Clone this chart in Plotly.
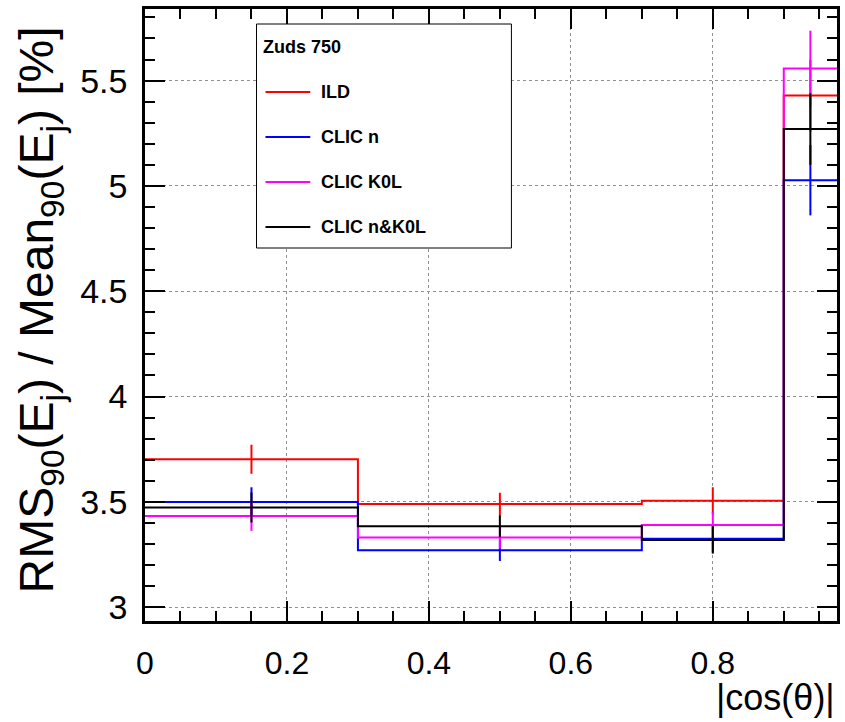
import numpy as np
import plotly.graph_objects as go

# ---- data ----
bin_edges = [0.0, 0.3, 0.7, 0.9, 0.975]
series_names = ["ILD", "CLIC n", "CLIC K0L", "CLIC n&K0L"]
ild = [3.702, 3.489, 3.505, 5.429]
clic_n = [3.499, 3.270, 3.325, 5.027]
clic_k0l = [3.432, 3.330, 3.390, 5.557]
clic_nk0l = [3.473, 3.384, 3.319, 5.270]
ild_err = [0.069, 0.054, 0.064, 0.170]
clic_n_err = [0.070, 0.051, 0.065, 0.167]
clic_k0l_err = [0.070, 0.052, 0.063, 0.180]
clic_nk0l_err = [0.071, 0.052, 0.065, 0.170]
legend_header = "Zuds 750"
x_title = "|cos(θ)|"
y_title = "RMS<sub>90</sub>(E<sub>j</sub>) / Mean<sub>90</sub>(E<sub>j</sub>) [%]"

colors = ["#ff0000", "#0000ff", "#ff00ff", "#000000"]
values = [ild, clic_n, clic_k0l, clic_nk0l]
errors = [ild_err, clic_n_err, clic_k0l_err, clic_nk0l_err]

W, H = 845, 722
ML, MR, MT, MB = 145, 5, 9, 101
PW, PH = W - ML - MR, H - MT - MB

def px(x):
    return (x - ML) / PW

def py(y):
    return (H - MB - y) / PH

FONT = "Liberation Sans, Arial, sans-serif"
edges = np.array(bin_edges)
centers = 0.5 * (edges[:-1] + edges[1:])

fig = go.Figure()
for name, col, vals, errs in zip(series_names, colors, values, errors):
    fig.add_trace(go.Scatter(
        x=list(edges), y=list(vals) + [vals[-1]],
        mode="lines", line=dict(color=col, width=2, shape="hv"),
        name=name, showlegend=False, hoverinfo="skip"))
    fig.add_trace(go.Scatter(
        x=centers, y=vals, mode="markers",
        marker=dict(size=1, color=col, opacity=0),
        error_y=dict(type="data", array=errs, visible=True,
                     color=col, thickness=2, width=0),
        showlegend=False, name=name))

# ---- manual legend (ROOT style) ----
shapes = [dict(type="rect", xref="paper", yref="paper",
               x0=px(257), x1=px(513), y0=py(248), y1=py(24),
               line=dict(color="black", width=1), fillcolor="white",
               layer="above")]
annotations = [dict(text="<b>%s</b>" % legend_header, xref="paper", yref="paper",
                    x=px(262), y=py(47), xanchor="left", yanchor="middle",
                    showarrow=False, font=dict(family=FONT, size=18, color="black"))]
row_y = [92, 137, 182, 227]
for name, col, ry in zip(series_names, colors, row_y):
    shapes.append(dict(type="line", xref="paper", yref="paper",
                       x0=px(266), x1=px(311), y0=py(ry), y1=py(ry),
                       line=dict(color=col, width=2), layer="above"))
    annotations.append(dict(text="<b>%s</b>" % name, xref="paper", yref="paper",
                            x=px(320), y=py(ry), xanchor="left", yanchor="middle",
                            showarrow=False,
                            font=dict(family=FONT, size=18, color="black")))

# axis titles
annotations.append(dict(text=x_title, xref="paper", yref="paper",
                        x=px(840), y=py(697), xanchor="right", yanchor="middle",
                        showarrow=False, font=dict(family=FONT, size=36, color="black")))
annotations.append(dict(text=y_title, xref="paper", yref="paper",
                        x=px(40), y=py(310), xanchor="center", yanchor="middle",
                        textangle=-90, showarrow=False,
                        font=dict(family=FONT, size=48, color="black")))

axis_common = dict(
    showline=True, linecolor="black", linewidth=2.5, mirror="ticks",
    ticks="inside", tickcolor="black", tickwidth=2, ticklen=20,
    showgrid=True, gridcolor="#909090", gridwidth=1, griddash="dot",
    zeroline=False,
)

fig.update_layout(
    width=W, height=H,
    margin=dict(l=ML, r=MR, t=MT, b=MB, pad=0),
    paper_bgcolor="white", plot_bgcolor="white",
    showlegend=False,
    shapes=shapes, annotations=annotations,
    xaxis=dict(range=[0, 0.975], tick0=0, dtick=0.2,
               tickfont=dict(family=FONT, size=32, color="black"),
               ticklabelstandoff=12,
               minor=dict(dtick=0.05, tick0=0, ticklen=10, tickwidth=2,
                          tickcolor="black", ticks="inside", showgrid=False),
               **axis_common),
    yaxis=dict(range=[2.934, 5.84], tick0=3, dtick=0.5,
               tickfont=dict(family=FONT, size=34, color="black"),
               ticklabelstandoff=8,
               minor=dict(dtick=0.1, tick0=3, ticklen=10, tickwidth=2,
                          tickcolor="black", ticks="inside", showgrid=False),
               **axis_common),
)

fig.write_html("out.html", config={"displayModeBar": False},
               post_script="document.body.style.margin='0';document.body.style.overflow='hidden';")
